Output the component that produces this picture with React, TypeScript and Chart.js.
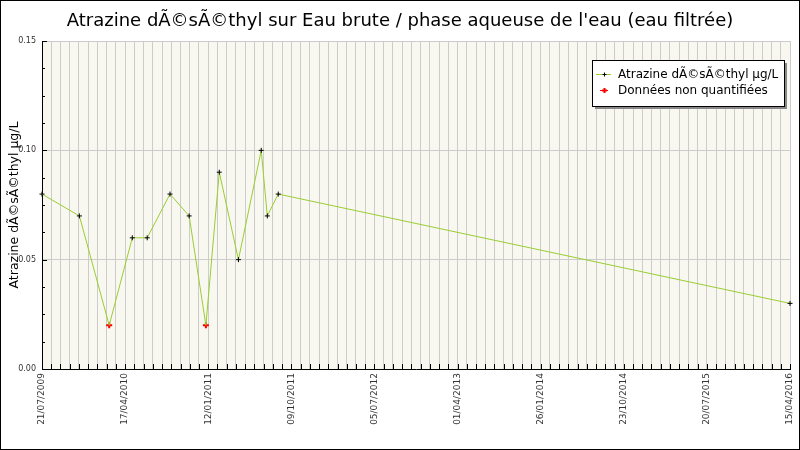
import { useEffect, useRef } from "react";
import { Chart, registerables, Plugin } from "chart.js";

Chart.register(...registerables);

const chartTitle = "Atrazine dÃ©sÃ©thyl sur Eau brute / phase aqueuse de l'eau (eau filtrée)";
const seriesLabel = "Atrazine dÃ©sÃ©thyl µg/L";
const nonQuantLabel = "Données non quantifiées";
const yAxisTitle = "Atrazine dÃ©sÃ©thyl µg/L";

// sampling dates (dd/mm/yyyy) and measured values
const sampleDates = [
  "21/07/2009", "21/11/2009", "27/02/2010", "14/05/2010", "02/07/2010",
  "15/09/2010", "17/11/2010", "11/01/2011", "24/02/2011", "28/04/2011",
  "12/07/2011", "01/08/2011", "06/09/2011", "15/04/2016",
];
const concentrations = [
  0.08, 0.07, 0.02, 0.06, 0.06,
  0.08, 0.07, 0.02, 0.09, 0.05,
  0.10, 0.07, 0.08, 0.03,
];
const nonQuantified = [
  false, false, true, false, false,
  false, false, true, false, false,
  false, false, false, false,
];

const xTickLabels = [
  "21/07/2009", "17/04/2010", "12/01/2011", "09/10/2011", "05/07/2012",
  "01/04/2013", "26/01/2014", "23/10/2014", "20/07/2015", "15/04/2016",
];
const yTickLabels = ["0.00", "0.05", "0.10", "0.15"];
const yMax = 0.15;
const yStep = 0.0125;
const minorPerLabel = 9;

const FONT = "DejaVu Sans";

function parseDay(s: string) {
  const [d, m, y] = s.split("/").map(Number);
  return Date.UTC(y, m - 1, d) / 86400000;
}

const xMin = parseDay(xTickLabels[0]);
const xMax = parseDay(xTickLabels[xTickLabels.length - 1]);

const plotBackground: Plugin = {
  id: "plotBackground",
  beforeDraw(chart) {
    const { ctx, chartArea: a } = chart;
    ctx.save();
    ctx.fillStyle = "#f8f8f0";
    ctx.fillRect(a.left, a.top, a.right - a.left, a.bottom - a.top);
    ctx.restore();
  },
};

// tick marks pointing into the plot
const innerTicks: Plugin = {
  id: "innerTicks",
  afterDatasetsDraw(chart) {
    const { ctx, chartArea: a } = chart;
    const xs = chart.scales.x;
    const ys = chart.scales.y;
    ctx.save();
    ctx.strokeStyle = "#000";
    ctx.lineWidth = 1;
    ctx.beginPath();
    ys.ticks.forEach((t, i) => {
      const y = Math.round(ys.getPixelForValue(t.value)) + 0.5;
      const len = i % 4 === 0 ? 5 : 3;
      ctx.moveTo(a.left, y);
      ctx.lineTo(a.left + len, y);
    });
    xs.ticks.forEach((t) => {
      const x = Math.round(xs.getPixelForValue(t.value)) + 0.5;
      ctx.moveTo(x, a.bottom);
      ctx.lineTo(x, a.bottom - 5);
    });
    ctx.stroke();
    ctx.restore();
  },
};

function drawCross(ctx: CanvasRenderingContext2D, x: number, y: number, r: number, color: string, w: number) {
  ctx.strokeStyle = color;
  ctx.lineWidth = w;
  ctx.beginPath();
  ctx.moveTo(x - r, y);
  ctx.lineTo(x + r, y);
  ctx.moveTo(x, y - r);
  ctx.lineTo(x, y + r);
  ctx.stroke();
}

const legendBox: Plugin = {
  id: "legendBox",
  afterDraw(chart) {
    const { ctx, chartArea: a } = chart;
    const ds = chart.data.datasets as any[];
    ctx.save();
    ctx.font = `12px "${FONT}"`;
    const w = Math.round(26 + Math.max(...ds.map((d) => ctx.measureText(d.label).width)) + 6);
    const h = 46;
    const x = Math.round(a.right - 6 - w);
    const y = Math.round(a.top + 19);
    ctx.fillStyle = "#888";
    ctx.fillRect(x + 3, y + 3, w, h);
    ctx.fillStyle = "#fff";
    ctx.fillRect(x, y, w, h);
    ctx.strokeStyle = "#000";
    ctx.lineWidth = 1;
    ctx.strokeRect(x + 0.5, y + 0.5, w, h);
    ds.forEach((d, i) => {
      const cy = y + 14.5 + i * 16;
      ctx.strokeStyle = d.borderColor;
      ctx.lineWidth = 1;
      ctx.beginPath();
      ctx.moveTo(x + (i === 0 ? 4 : 8), cy);
      ctx.lineTo(x + (i === 0 ? 19 : 16), cy);
      ctx.stroke();
      drawCross(ctx, x + 12.5, cy, i === 0 ? 2 : 2.5, i === 0 ? "#000" : d.borderColor, i === 0 ? 1 : 2);
      ctx.fillStyle = "#000";
      ctx.textBaseline = "middle";
      ctx.textAlign = "left";
      ctx.fillText(d.label, x + 26, cy);
    });
    ctx.restore();
  },
};

const frame: Plugin = {
  id: "frame",
  afterDraw(chart) {
    const { ctx, width, height } = chart;
    ctx.save();
    ctx.strokeStyle = "#000";
    ctx.lineWidth = 1;
    ctx.strokeRect(0.5, 0.5, width - 1, height - 1);
    ctx.restore();
  },
};

export default function App() {
  const canvasRef = useRef<HTMLCanvasElement>(null);
  const chartRef = useRef<Chart | null>(null);

  useEffect(() => {
    document.body.style.margin = "0";
    if (!canvasRef.current) return;
    if (chartRef.current) chartRef.current.destroy();

    Chart.defaults.font.family = FONT;

    const points = sampleDates.map((d, i) => ({ x: parseDay(d), y: concentrations[i] }));
    const redPoints = points.filter((_, i) => nonQuantified[i]);

    chartRef.current = new Chart(canvasRef.current, {
      type: "line",
      data: {
        datasets: [
          {
            label: seriesLabel,
            data: points,
            borderColor: "#9acd32",
            borderWidth: 1,
            tension: 0,
            pointStyle: "cross",
            pointRadius: nonQuantified.map((n) => (n ? 0 : 2.5)),
            pointBorderWidth: 1,
            pointBorderColor: "#000",
            pointBackgroundColor: "#000",
            clip: 6,
          },
          {
            label: nonQuantLabel,
            data: redPoints,
            showLine: false,
            borderColor: "#ff0000",
            pointStyle: "cross",
            pointRadius: 3,
            pointBorderWidth: 2,
            pointBorderColor: "#ff0000",
            pointBackgroundColor: "#ff0000",
            clip: 6,
          },
        ],
      },
      options: {
        animation: false,
        responsive: false,
        devicePixelRatio: 1,
        layout: { padding: { left: 5, right: 5, top: 0, bottom: 0 } },
        plugins: {
          legend: { display: false },
          tooltip: { enabled: false },
          title: {
            display: true,
            text: chartTitle,
            color: "#000",
            font: { size: 18, weight: "normal", family: FONT },
            padding: { top: 11, bottom: 8.4 },
          },
        },
        scales: {
          x: {
            type: "linear",
            min: xMin,
            max: xMax,
            afterBuildTicks: (scale: any) => {
              const n = (xTickLabels.length - 1) * minorPerLabel;
              scale.ticks = Array.from({ length: n + 1 }, (_, i) => ({
                value: xMin + ((xMax - xMin) * i) / n,
              }));
            },
            afterFit: (scale: any) => {
              scale.height = 81;
              scale.paddingLeft = 0;
              scale.paddingRight = 10;
            },
            grid: { color: "#cccccc", drawTicks: false },
            border: { color: "#000" },
            ticks: {
              autoSkip: false,
              minRotation: 90,
              maxRotation: 90,
              padding: 4,
              color: "#333",
              font: { size: 9 },
              callback: (_v: any, i: number) => (i % minorPerLabel === 0 ? xTickLabels[i / minorPerLabel] : ""),
            },
          },
          y: {
            min: 0,
            max: yMax,
            afterFit: (scale: any) => {
              scale.width = 37;
            },
            grid: {
              color: (c: any) => (c.index % 4 === 0 ? "#cccccc" : "rgba(0,0,0,0)"),
              drawTicks: false,
            },
            border: { color: "#000" },
            ticks: {
              stepSize: yStep,
              padding: 6,
              color: "#333",
              font: { size: 8 },
              callback: (_v: any, i: number) => (i % 4 === 0 ? yTickLabels[i / 4] : ""),
            },
            title: {
              display: true,
              text: yAxisTitle,
              color: "#000",
              font: { size: 12.5, family: FONT },
              padding: { top: 2, bottom: 0 },
            },
          },
        },
      },
      plugins: [plotBackground, innerTicks, legendBox, frame],
    });

    return () => {
      if (chartRef.current) {
        chartRef.current.destroy();
        chartRef.current = null;
      }
    };
  }, []);

  return (
    <div style={{ width: 800, height: 450 }}>
      <canvas ref={canvasRef} width={800} height={450} style={{ display: "block" }} />
    </div>
  );
}
